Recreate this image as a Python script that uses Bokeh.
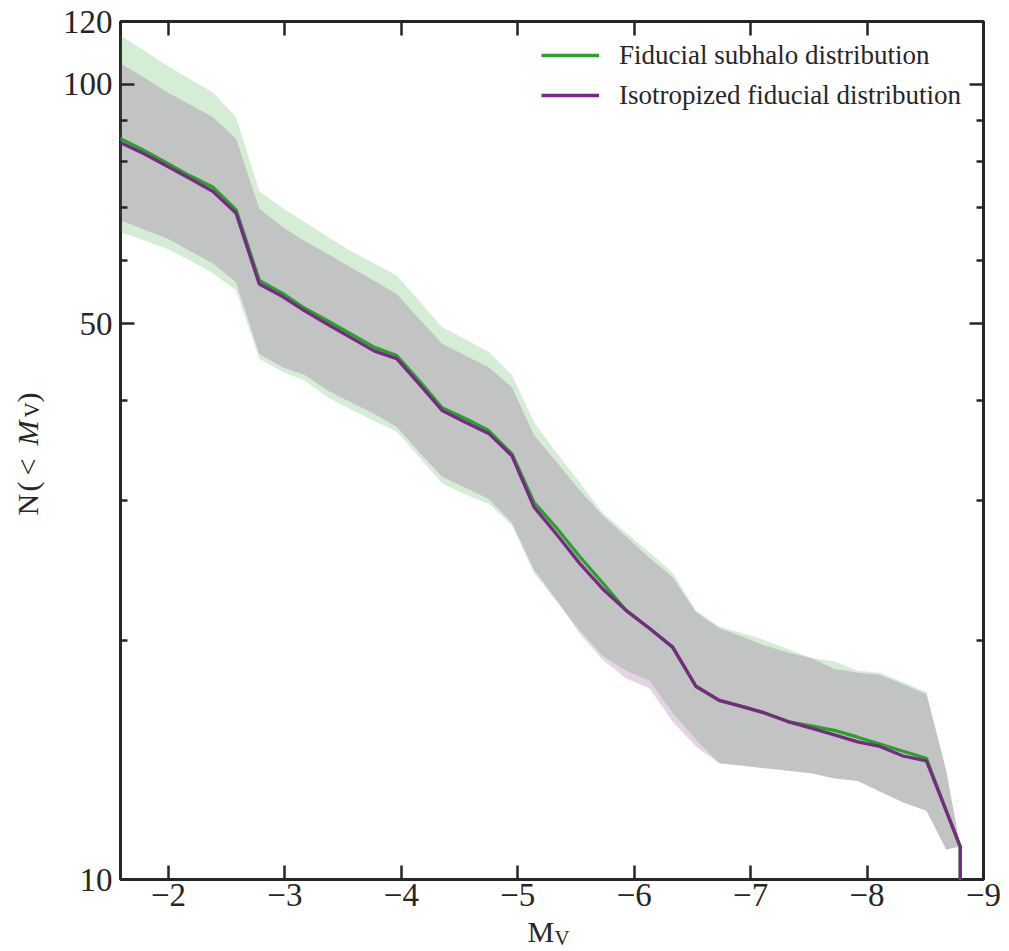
from bokeh.plotting import figure
from bokeh.layouts import row, column
from bokeh.models import (FixedTicker, LinearAxis, LogAxis, Label, Legend, LegendItem,
                          Range1d, CustomJSTickFormatter)
from bokeh.embed import file_html
from bokeh.resources import INLINE

# ---------------- data ----------------
mv = [-1.58, -1.79, -1.99, -2.18, -2.38, -2.58, -2.78, -2.98, -3.17, -3.37,
      -3.57, -3.77, -3.96, -4.16, -4.35, -4.55, -4.75, -4.95, -5.14, -5.34,
      -5.53, -5.73, -5.93, -6.13, -6.33, -6.53, -6.73, -6.93, -7.12, -7.32,
      -7.52, -7.72, -7.92, -8.11, -8.31, -8.51, -8.68, -8.80]

fiducial = [85.6, 82.6, 79.6, 76.8, 74.3, 69.6, 56.7, 54.6, 52.3, 50.4,
            48.5, 46.7, 45.6, 42.3, 39.2, 38.0, 36.7, 34.3, 29.8, 27.6,
            25.5, 23.6, 21.8, 20.7, 19.6, 17.5, 16.8, 16.5, 16.2, 15.8,
            15.6, 15.4, 15.1, 14.8, 14.5, 14.2, 12.2, 11.0]
fiducial_hi = [115.3, 110.3, 105.6, 101.7, 97.8, 91.0, 73.4, 69.9, 67.1, 64.3,
               61.7, 59.5, 57.5, 53.3, 49.5, 47.8, 46.1, 43.1, 37.6, 34.3,
               31.6, 28.9, 27.3, 25.8, 24.3, 21.8, 20.8, 20.4, 20.0, 19.5,
               19.0, 18.8, 18.3, 18.2, 17.7, 17.2, 13.7, 11.0]
fiducial_lo = [65.2, 63.7, 62.1, 60.1, 57.9, 55.1, 45.2, 43.5, 42.4, 40.4,
               39.0, 37.7, 36.6, 33.9, 31.5, 30.5, 29.7, 27.9, 24.3, 22.3,
               20.6, 19.1, 18.3, 17.8, 16.2, 15.0, 14.0, 13.9, 13.8, 13.7,
               13.6, 13.4, 13.3, 12.9, 12.5, 12.2, 10.9, 11.0]

isotropized = [84.6, 81.8, 78.9, 76.2, 73.4, 68.9, 56.1, 54.1, 51.9, 49.9,
               48.0, 46.2, 45.2, 41.9, 38.9, 37.6, 36.4, 34.1, 29.4, 27.1,
               25.0, 23.2, 21.8, 20.7, 19.6, 17.5, 16.8, 16.5, 16.2, 15.8,
               15.5, 15.2, 14.9, 14.7, 14.3, 14.1, 12.2, 11.0]
isotropized_hi = [106.4, 102.0, 97.8, 94.4, 91.0, 85.5, 69.8, 66.2, 63.5, 61.2,
                  58.8, 56.6, 54.5, 50.6, 47.2, 45.6, 44.1, 41.6, 36.2, 33.4,
                  30.9, 28.7, 27.0, 25.4, 24.0, 21.7, 20.7, 20.2, 19.7, 19.3,
                  19.0, 18.4, 18.2, 18.1, 17.6, 17.1, 13.7, 11.0]
isotropized_lo = [67.5, 65.7, 64.0, 61.8, 59.6, 56.4, 45.8, 44.1, 43.1, 41.2,
                  39.8, 38.5, 37.1, 34.4, 32.1, 31.1, 30.1, 28.1, 24.5, 22.4,
                  20.4, 18.9, 17.9, 17.4, 15.8, 14.7, 14.0, 13.9, 13.8, 13.7,
                  13.6, 13.4, 13.3, 12.9, 12.5, 12.2, 10.9, 11.0]

# the cumulative count falls to zero past the last bin (vertical drop)
drop_mv = -8.80
drop_n = 1.0

x_ticks = [-2, -3, -4, -5, -6, -7, -8, -9]
y_ticks = [10, 50, 100, 120]
y_minor = [20, 30, 40, 60, 70, 80, 90]

legend_labels = ["Fiducial subhalo distribution", "Isotropized fiducial distribution"]

# ---------------- styling ----------------
GREEN = "#2ca02c"
PURPLE = "#762a83"
INK = "#262626"
SERIF = "Liberation Serif"

LABEL_W = 50      # strip on the left holding the y-axis title
MAIN_H = 921      # main figure height; strip below holds the x-axis title
TOTAL_W, TOTAL_H = 1009, 951

p = figure(width=TOTAL_W - LABEL_W, height=MAIN_H,
           x_range=Range1d(-1.588, -9.0), y_range=Range1d(10, 120),
           y_axis_type="log", output_backend="svg", toolbar_location=None,
           min_border_left=70, min_border_right=26,
           min_border_top=21, min_border_bottom=42)
p.xgrid.visible = False
p.ygrid.visible = False
p.outline_line_color = INK
p.outline_line_width = 3
p.background_fill_color = "white"
p.border_fill_color = "white"

# bands
p.varea(x=mv, y1=fiducial_lo, y2=fiducial_hi, fill_color=GREEN, fill_alpha=0.2)
p.varea(x=mv, y1=isotropized_lo, y2=isotropized_hi, fill_color=PURPLE, fill_alpha=0.2)

# lines
rg = p.line(x=mv + [drop_mv], y=fiducial + [drop_n], line_color=GREEN, line_width=3.3)
rp = p.line(x=mv + [drop_mv], y=isotropized + [drop_n], line_color=PURPLE, line_width=3.3)

minus_fmt = CustomJSTickFormatter(code="return (tick < 0 ? '\\u2212' : '') + Math.abs(tick).toFixed(0);")
int_fmt = CustomJSTickFormatter(code="return tick.toFixed(0);")


def style_axis(ax, show_labels):
    ax.axis_line_color = None
    ax.major_tick_in = 14
    ax.major_tick_out = 0
    ax.minor_tick_in = 7
    ax.minor_tick_out = 0
    ax.major_tick_line_width = 2.5
    ax.minor_tick_line_width = 2.5
    ax.major_tick_line_color = INK
    ax.minor_tick_line_color = INK
    ax.major_label_text_font = SERIF
    ax.major_label_text_color = INK
    if show_labels:
        ax.major_label_text_font_size = "33px"
    else:
        ax.major_label_text_font_size = "1px"
        ax.major_label_text_alpha = 0
        ax.major_label_standoff = 0


xa = p.xaxis[0]
xa.ticker = FixedTicker(ticks=x_ticks)
xa.formatter = minus_fmt
style_axis(xa, True)
xa.major_label_standoff = 4

ya = p.yaxis[0]
ya.ticker = FixedTicker(ticks=y_ticks, minor_ticks=y_minor)
ya.formatter = int_fmt
style_axis(ya, True)
ya.major_label_standoff = 8

xt = LinearAxis(ticker=FixedTicker(ticks=x_ticks), formatter=minus_fmt)
style_axis(xt, False)
p.add_layout(xt, "above")
yr = LogAxis(ticker=FixedTicker(ticks=y_ticks, minor_ticks=y_minor), formatter=int_fmt)
style_axis(yr, False)
p.add_layout(yr, "right")

legend = Legend(items=[LegendItem(label=legend_labels[0], renderers=[rg]),
                       LegendItem(label=legend_labels[1], renderers=[rp])],
                location=(421, 768), border_line_color=None, background_fill_alpha=0,
                padding=0, margin=0, spacing=8, glyph_width=58, glyph_height=32,
                label_height=32, label_standoff=20, label_text_font=SERIF,
                label_text_font_size="27px", label_text_color=INK)
p.add_layout(legend)


def strip(width, height):
    f = figure(width=width, height=height, x_range=Range1d(0, 1), y_range=Range1d(0, 1),
               output_backend="svg", toolbar_location=None,
               x_axis_location=None, y_axis_location=None, min_border=0)
    f.xgrid.visible = False
    f.ygrid.visible = False
    f.outline_line_color = None
    f.background_fill_color = "white"
    f.border_fill_color = "white"
    return f


lab = dict(x_units="screen", y_units="screen", text_font=SERIF, text_color=INK,
           text_baseline="alphabetic", text_align="left")
BIG = "30px"
SUB = "21px"

# y-axis title  N(< M_V), read bottom-to-top
yl = strip(LABEL_W, TOTAL_H)
rot = dict(angle=90, angle_units="deg")
yl.add_layout(Label(x=27, y=436, text="N", text_font_size=BIG, **rot, **lab))
yl.add_layout(Label(x=27, y=460, text="(", text_font_size=BIG, **rot, **lab))
yl.add_layout(Label(x=27, y=476, text="<", text_font_size=BIG, **rot, **lab))
yl.add_layout(Label(x=27, y=506, text="M", text_font_size=BIG,
                    text_font_style="italic", **rot, **lab))
yl.add_layout(Label(x=31, y=534, text="V", text_font_size=SUB, **rot, **lab))
yl.add_layout(Label(x=27, y=549, text=")", text_font_size=BIG, **rot, **lab))

# x-axis title  M_V (the strip's frame lines up with the main frame)
xl = strip(TOTAL_W - LABEL_W, TOTAL_H - MAIN_H)
xl.add_layout(Label(x=407, y=20, text="M", text_font_size=BIG, **lab))
xl.add_layout(Label(x=434, y=14, text="V", text_font_size=SUB, **lab))

layout = row(yl, column(p, xl, spacing=0), spacing=0)

open("out.html", "w").write(file_html(layout, INLINE))
